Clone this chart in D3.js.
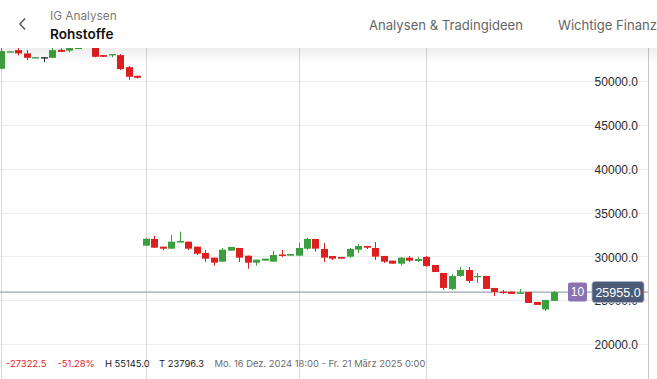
<!DOCTYPE html>
<html><head><meta charset="utf-8">
<script src="https://cdn.jsdelivr.net/npm/d3@7"></script>
<style>
html,body{margin:0;padding:0;background:#fff;overflow:hidden}
svg{display:block}
</style></head>
<body>
<svg id="c" width="657" height="379"></svg>
<script>
// ---- data (index = candle number) ----
const opens  = [51342,53290,53466,53091,52620,52660,52591,53500,53410,53700,53800,54600,52898,52898,52898,51534,50546,
  31228,31989,31114,30887,31591,31682,31114,30398,29864,29409,30659,30966,30091,29296,29523,29409,30227,30091,30091,30887,
  31989,30853,30057,29943,29977,30773,31193,30966,30057,29523,29182,29864,29489,29943,29034,28125,26307,27784,28466,27670,
  27784,26421,26000,26000,25773,25966,24830,23977,24943];
const highs  = [53700,53350,53693,53466,52670,52670,53693,53693,53750,53800,55145,54800,52898,53030,53012,51648,50546,
  32050,32330,31114,32443,32818,31682,31114,30739,29864,30966,31080,30966,30091,29636,29750,30625,30739,30284,31534,32103,
  31989,31534,30057,29943,30966,31421,31193,31648,30057,29523,29943,30057,29943,30057,29034,28125,28011,28807,28807,28125,
  27784,26421,26193,26000,26307,25966,24830,25057,26080];
const lows   = [51300,53280,52864,52330,52550,52103,52591,53273,53239,53680,53750,52650,52680,52671,51194,50057,50228,
  31200,30980,30739,30887,31591,30739,30170,29375,28955,29375,30659,29375,28614,28955,29523,29409,29943,30091,30091,30739,
  30546,29375,29602,29750,29830,30398,30853,29602,29261,29182,28955,29375,29375,28807,28239,26193,26193,27670,26989,26989,
  26307,25511,25739,25739,25739,24716,24489,23796.3,24943];
const closes = [53353,53330,53091,52591,52660,52660,53466,53273,53693,53740,54600,52705,52705,53012,51307,50432,50319,
  32023,31000,30887,31682,31762,30887,30318,29750,29296,30773,31080,29864,29296,29636,29750,30170,30057,30284,30966,31989,
  30887,29864,29750,29750,30853,31193,31000,29977,29409,29182,29864,29523,29716,28920,28239,26421,27784,28466,27216,27784,
  26307,25966,25852,25739,25886,24716,24489,25057,25955];
const yTicks = [20000,25000,30000,35000,40000,45000,50000];
const xGridIdx = [0,17,35,50];
const lastPrice = 25955.0;
const badgeCount = "10";
const changeAbs = "-27322.5", changePct = "-51.28%", highTxt = "H 55145.0", lowTxt = "T 23796.3";
const rangeTxt = "Mo. 16 Dez. 2024 18:00 - Fr. 21 März 2025 0:00";
const headerSub = "IG Analysen", headerTitle = "Rohstoffe";
const navItems = ["Analysen & Tradingideen","Wichtige Finanz"];

// ---- drawing ----
const svg = d3.select("#c");
const W = 657, H = 379, axisX = 648;
const x = d3.scaleLinear().domain([0, 65]).range([1, 553.5]);
const y = d3.scaleLinear().domain([20000, 50000]).range([344.4, 80.6]);
const green = "#3c9f3f", red = "#df1f1f", doji = "#222";
const bw = 7;

const g = svg.append("g");
// horizontal grid
g.selectAll(".hg").data(yTicks).join("line")
  .attr("x1",0).attr("x2",axisX).attr("y1",d=>Math.round(y(d))+0.5).attr("y2",d=>Math.round(y(d))+0.5)
  .attr("stroke","#ececec").attr("stroke-width",1);
// vertical grid
g.selectAll(".vg").data(xGridIdx).join("line")
  .attr("x1",d=>Math.round(x(d))+0.5).attr("x2",d=>Math.round(x(d))+0.5).attr("y1",0).attr("y2",H)
  .attr("stroke","#d9d9d9").attr("stroke-width",1);
// right axis line
g.append("line").attr("x1",axisX+0.5).attr("x2",axisX+0.5).attr("y1",0).attr("y2",H)
  .attr("stroke","#c8c8c8");

// axis labels
const ax = d3.axisLeft(y).tickValues(yTicks).tickSize(0).tickPadding(0).tickFormat(d3.format(".1f"));
const axg = svg.append("g").attr("transform",`translate(638,0)`).call(ax);
axg.select(".domain").remove();
axg.selectAll("text").attr("font-family","'Liberation Sans',Arial,sans-serif").attr("font-size",12).attr("fill","#2a2a2a").attr("dy","0.38em");

// price line
g.append("line").attr("x1",0).attr("x2",axisX).attr("y1",y(lastPrice)).attr("y2",y(lastPrice))
  .attr("stroke","#9aa5b5").attr("stroke-width",1.3);

// candles
const idx = d3.range(opens.length);
const col = i => closes[i] > opens[i] ? green : (closes[i] < opens[i] ? red : doji);
const cg = svg.append("g");
cg.selectAll(".w").data(idx).join("line")
  .attr("x1",i=>Math.round(x(i))+0.5).attr("x2",i=>Math.round(x(i))+0.5)
  .attr("y1",i=>y(highs[i])).attr("y2",i=>y(lows[i]))
  .attr("stroke",col).attr("stroke-width",1);
cg.selectAll(".b").data(idx).join("rect")
  .attr("x",i=>Math.round(x(i))-3).attr("width",bw)
  .attr("y",i=>y(Math.max(opens[i],closes[i])))
  .attr("height",i=>Math.max(1.3, Math.abs(y(opens[i])-y(closes[i]))))
  .attr("fill",col);

// badge "10"
const py = y(lastPrice);
svg.append("rect").attr("x",568).attr("y",py-9.5).attr("width",19).attr("height",19).attr("rx",2).attr("fill","#8c72b3");
svg.append("text").attr("x",577.5).attr("y",py).attr("dy","0.36em").attr("text-anchor","middle")
  .attr("font-family","'Liberation Sans',Arial,sans-serif").attr("font-size",12).attr("fill","#fff").text(badgeCount);
svg.append("rect").attr("x",592).attr("y",py-10.5).attr("width",52).attr("height",21).attr("rx",3)
  .attr("fill","#4b5a77").attr("stroke","#aab4c4").attr("stroke-width",0.8);
svg.append("text").attr("x",618).attr("y",py).attr("dy","0.36em").attr("text-anchor","middle")
  .attr("font-family","'Liberation Sans',Arial,sans-serif").attr("font-size",12.5).attr("fill","#fff").text(d3.format(".1f")(lastPrice));

// bottom status line
const ff = "Inter,'Noto Sans',sans-serif";
const st = svg.append("g").attr("font-family",ff).attr("font-size",9.4);
st.append("text").attr("x",6).attr("y",366.5).attr("fill","#e02424").text(changeAbs);
st.append("text").attr("x",57.5).attr("y",366.5).attr("fill","#e02424").text(changePct);
st.append("text").attr("x",105).attr("y",366.5).attr("fill","#222").text(highTxt);
st.append("text").attr("x",159).attr("y",366.5).attr("fill","#222").text(lowTxt);
st.append("text").attr("x",214.5).attr("y",366.5).attr("fill","#6b6b6b").text(rangeTxt);

// header with shadow
const defs = svg.append("defs");
const lg = defs.append("linearGradient").attr("id","sh").attr("x1",0).attr("x2",0).attr("y1",0).attr("y2",1);
lg.append("stop").attr("offset",0).attr("stop-color","#000").attr("stop-opacity",0.07);
lg.append("stop").attr("offset",1).attr("stop-color","#000").attr("stop-opacity",0);
svg.append("rect").attr("x",0).attr("y",48).attr("width",W).attr("height",16).attr("fill","url(#sh)");
svg.append("rect").attr("x",0).attr("y",0).attr("width",W).attr("height",48).attr("fill","#fff");
svg.append("path").attr("d","M25,18.5 L20,24 L25,29.5").attr("fill","none").attr("stroke","#555").attr("stroke-width",1.4);
svg.append("text").attr("x",50).attr("y",20).attr("font-family",ff).attr("font-size",11.8).attr("fill","#7a7a7a").text(headerSub);
svg.append("text").attr("x",50).attr("y",38.5).attr("font-family",ff).attr("font-size",13.6).attr("font-weight",600).attr("fill","#111").text(headerTitle);
svg.append("text").attr("x",369).attr("y",29.5).attr("font-family",ff).attr("font-size",13.1).attr("fill","#666").text(navItems[0]);
svg.append("text").attr("x",558).attr("y",29.5).attr("font-family",ff).attr("font-size",13.1).attr("fill","#666").text(navItems[1]);
</script>
</body></html>
